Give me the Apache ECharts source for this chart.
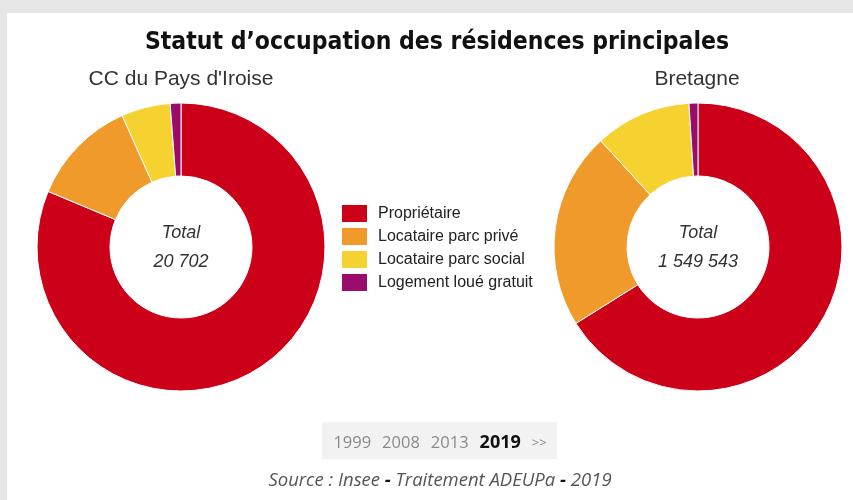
<!DOCTYPE html>
<html>
<head>
<meta charset="utf-8">
<script src="https://cdn.jsdelivr.net/npm/echarts@6/dist/echarts.min.js"></script>
<style>
  html, body { margin: 0; padding: 0; background: #e6e6e6; }
  #chart { width: 853px; height: 500px; }
</style>
</head>
<body>
<div id="chart"></div>
<script>
// catégories et valeurs (%)
const categories = ['Propriétaire', 'Locataire parc privé', 'Locataire parc social', 'Logement loué gratuit'];
const colors = ['#cc0018', '#f09a2c', '#f6d230', '#9a0c6c'];
const iroiseValues = [81.3, 12.0, 5.5, 1.2];
const bretagneValues = [66.1, 22.1, 10.8, 1.0];
const territories = ['CC du Pays d\'Iroise', 'Bretagne'];
const totals = ['20 702', '1 549 543'];
const years = ['1999', '2008', '2013', '2019'];
const selectedYear = '2019';

const chart = echarts.init(document.getElementById('chart'));

const toData = (values) => values.map((v, i) => ({ name: categories[i], value: v }));

const centers = [[181, 247], [698, 247]];

const pieSeries = (values, center) => ({
  type: 'pie',
  center: center,
  radius: [71, 144],
  startAngle: 90,
  clockwise: true,
  avoidLabelOverlap: false,
  label: { show: false },
  labelLine: { show: false },
  itemStyle: { borderColor: '#fff', borderWidth: 1 },
  emphasis: { disabled: true },
  data: toData(values),
});

// textes au-dessus et au centre des anneaux
const subtitleText = (name, x) => ({
  type: 'text', x: x, y: 79,
  style: {
    text: name, align: 'center', verticalAlign: 'middle',
    fontFamily: 'Liberation Sans', fontSize: 21, fill: '#333',
  },
});

const totalText = (total, center) => ({
  type: 'text', x: center[0], y: 247,
  style: {
    text: '{l|Total}\n{v|' + total + '}', align: 'center', verticalAlign: 'middle',
    rich: {
      l: { fontFamily: 'Liberation Sans', fontStyle: 'italic', fontSize: 18, lineHeight: 29, fill: '#333' },
      v: { fontFamily: 'Liberation Sans', fontStyle: 'italic', fontSize: 18, lineHeight: 29, fill: '#333' },
    },
  },
});

// frise des années
const yearRich = years.map((y) => (y === selectedYear ? `{sel|${y}}` : `{y|${y}}`)).join('') + '{arr|>>}';

const option = {
  backgroundColor: '#e6e6e6',
  color: colors,
  animation: false,
  legend: {
    orient: 'vertical',
    left: 340, top: 203, padding: 0,
    itemWidth: 27, itemHeight: 19, itemGap: 2,
    icon: 'rect',
    selectedMode: false,
    textStyle: { fontFamily: 'Liberation Sans', fontSize: 16, lineHeight: 19, color: '#222', padding: [0, 0, 0, 5] },
    data: categories,
  },
  graphic: [
    { type: 'rect', z: -10, shape: { x: 7, y: 13, width: 846, height: 487 }, style: { fill: '#fff' } },
    { type: 'rect', z: -5, shape: { x: 322, y: 422, width: 235, height: 37 }, style: { fill: '#f2f2f2' } },
    {
      type: 'text', x: 437, y: 43,
      style: {
        text: 'Statut d\u2019occupation des résidences principales', align: 'center', verticalAlign: 'middle',
        fontFamily: 'DejaVu Sans Condensed', fontWeight: 'bold', fontSize: 24.5, fill: '#111',
      },
    },
    subtitleText(territories[0], 181),
    subtitleText(territories[1], 697),
    totalText(totals[0], centers[0]),
    totalText(totals[1], centers[1]),
    {
      type: 'text', x: 440, y: 443,
      style: {
        text: yearRich, align: 'center', verticalAlign: 'middle',
        rich: {
          y: { fontFamily: 'Open Sans', fontSize: 16.5, fill: '#8a8a8a', padding: [0, 11, 0, 0] },
          sel: { fontFamily: 'Open Sans', fontSize: 18, fontWeight: 'bold', fill: '#111', padding: [0, 11, 0, 0] },
          arr: { fontFamily: 'Open Sans', fontSize: 13, fill: '#8a8a8a' },
        },
      },
    },
    {
      type: 'text', x: 440, y: 481,
      style: {
        text: '{t|Source : Insee }{d|-}{t| Traitement ADEUPa }{d|-}{t| 2019}',
        align: 'center', verticalAlign: 'middle',
        rich: {
          t: { fontFamily: 'Open Sans', fontStyle: 'italic', fontSize: 18.5, fill: '#555' },
          d: { fontFamily: 'Open Sans', fontStyle: 'italic', fontSize: 18.5, fill: '#111', fontWeight: 'bold' },
        },
      },
    },
  ],
  series: [
    pieSeries(iroiseValues, centers[0]),
    pieSeries(bretagneValues, centers[1]),
  ],
};

chart.setOption(option);
</script>
</body>
</html>
